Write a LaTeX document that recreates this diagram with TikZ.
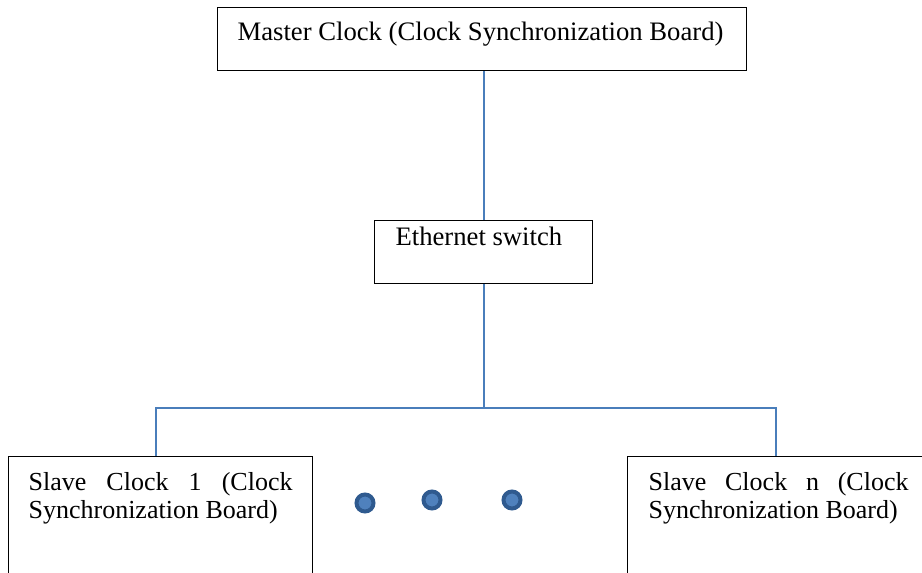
\documentclass[tikz,border=0pt]{standalone}
\usepackage{fontspec}
\setmainfont{Liberation Serif}
\definecolor{linecol}{HTML}{4A7EBB}
\definecolor{dotedge}{HTML}{2F5A8F}
\definecolor{dotfill}{HTML}{4F81BD}
\begin{document}
\hyphenpenalty=10000
\tolerance=10000
\begin{tikzpicture}[x=0.75pt, y=-0.75pt,
  box/.style={draw=black, line width=0.9pt, anchor=north west, inner ysep=0pt, align=justify,
    font=\fontsize{19.5}{21}\selectfont},
  wire/.style={draw=linecol, line width=1.2pt},
  dot/.style={shape=circle, draw=dotedge, fill=dotfill, line width=3pt, minimum size=12.75pt, inner sep=0pt}]
\useasboundingbox[fill=white] (0,0) rectangle (922,572);
% boxes
\node[box, font=\fontsize{20}{21}\selectfont, inner xsep=15pt, text width=366.75pt, text height=24.75pt, text depth=22.5pt] (master) at (217,7) {Master Clock (Clock Synchronization Board)};
\node[box, font=\fontsize{20}{21}\selectfont, inner xsep=15.75pt, text width=132pt, text height=18.75pt, text depth=28.5pt] (ethernet) at (374,220) {Ethernet switch};
\node[box, inner xsep=15pt, text width=198pt, text height=25.5pt, text depth=67.5pt] (slave1) at (8,456) {Slave Clock 1 (Clock Synchronization Board)};
\node[box, inner xsep=15.75pt, text width=195pt, text height=25.5pt, text depth=67.5pt] (slaven) at (627,456) {Slave Clock n (Clock Synchronization Board)};
% dots
\node[dot] (dot1) at (365,503) {};
\node[dot] (dot2) at (432,500) {};
\node[dot] (dot3) at (512,500) {};
% wires
\coordinate (busL) at (156,408);
\coordinate (busR) at (776,408);
\coordinate (trunk) at (484,408);
\draw[wire] (trunk |- ethernet.north) -- (trunk |- master.south);
\draw[wire] (trunk |- ethernet.south) -- (trunk);
\draw[wire] (slave1.north -| busL) -- (busL) -- (busR) -- (slaven.north -| busR);
\end{tikzpicture}
\end{document}
